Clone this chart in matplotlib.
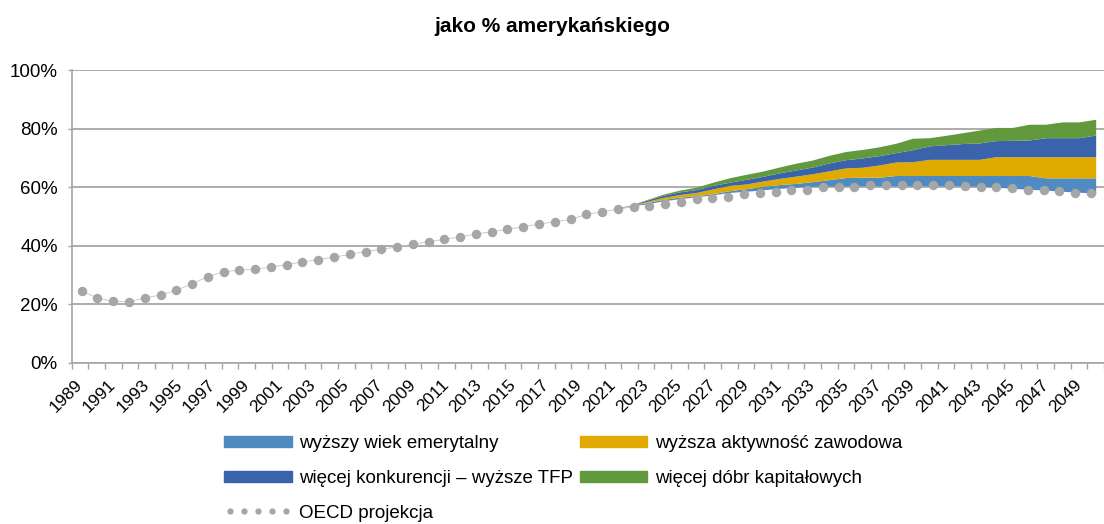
import numpy as np
import matplotlib.pyplot as plt
from matplotlib.lines import Line2D
from matplotlib.patches import Patch
from matplotlib.legend_handler import HandlerLine2D
from matplotlib.ticker import FuncFormatter

plt.rcParams['font.family'] = ['Liberation Sans', 'DejaVu Sans']

# category axis of the scenario chart
years = np.arange(1989, 2051)
proj_years = np.arange(2021, 2051)

# level the scenario bands start from (% of US level)
base = [52.8, 53.4, 54.3, 55.3, 56.1, 56.7, 57.4, 58.2, 58.6, 59.1,
        59.6, 60.0, 60.3, 60.4, 60.5, 60.5, 60.5, 60.5, 60.5, 60.5,
        60.5, 60.5, 60.4, 60.0, 59.6, 59.3, 59.0, 58.6, 58.3, 57.9]

# contributions of each reform, percentage points
emeryt = [0, 0.1, 0.4, 0.5, 0.5, 0.4, 0.4, 0.6, 0.9, 1.2,
          1.3, 1.3, 1.6, 2.2, 2.8, 2.9, 2.9, 3.5, 3.5, 3.5,
          3.5, 3.5, 3.6, 4.0, 4.4, 4.7, 4.2, 4.6, 4.9, 5.3]
aktyw = [0, 0.1, 0.4, 0.7, 0.9, 1.1, 1.6, 1.8, 1.6, 1.8,
         2.1, 2.5, 2.7, 3.0, 3.3, 3.4, 4.2, 4.6, 4.7, 5.5,
         5.5, 5.5, 5.5, 6.4, 6.4, 6.4, 7.2, 7.2, 7.2, 7.2]
tfp = [0, 0.1, 0.4, 0.7, 0.9, 1.0, 1.2, 1.1, 1.6, 1.6,
       1.9, 2.1, 2.3, 2.7, 2.8, 3.2, 3.2, 3.2, 4.1, 4.6,
       5.0, 5.4, 5.6, 5.5, 5.6, 5.7, 6.5, 6.5, 6.5, 7.4]
kapital = [0, 0.1, 0.2, 0.4, 0.6, 0.8, 1.1, 1.5, 1.7, 1.8,
           2.0, 2.3, 2.4, 2.6, 2.8, 2.9, 3.0, 3.2, 3.9, 2.8,
           3.2, 3.7, 4.4, 4.5, 4.4, 5.4, 4.6, 5.4, 5.4, 5.4]

# OECD series (history + projection), on its own category axis
oecd = [24.7, 22.1, 21.1, 20.9, 22.2, 23.2, 24.8, 27.0, 29.5, 31.1,
        31.7, 32.0, 32.7, 33.6, 34.5, 35.3, 36.1, 37.1, 38.0, 38.8,
        39.6, 40.5, 41.4, 42.2, 43.0, 44.0, 44.8, 45.6, 46.5, 47.4,
        48.2, 49.0, 50.7, 51.6, 52.5, 53.3, 53.7, 54.3, 55.1, 56.0,
        56.4, 56.8, 57.6, 58.1, 58.5, 59.0, 59.2, 60.0, 60.0, 60.0,
        60.9, 60.9, 60.9, 60.9, 60.9, 60.9, 60.4, 60.1, 60.1, 59.6,
        59.2, 59.2, 58.7, 58.1, 57.9]

labels = ['wyższy wiek emerytalny', 'wyższa aktywność zawodowa',
          'więcej konkurencji – wyższe TFP', 'więcej dóbr kapitałowych']
colors = ['#4f8bc0', '#e1aa00', '#3b63ab', '#62993d']
grey = '#a6a6a6'

fig = plt.figure(figsize=(11.04, 5.24), dpi=100)
ax = fig.add_axes([0.065, 0.3073, 0.935, 0.5591])

# stacked bands on top of the base level
x_proj = proj_years - years[0]
bottom = np.array(base)
for vals, c in zip([emeryt, aktyw, tfp, kapital], colors):
    top = bottom + np.array(vals)
    ax.fill_between(x_proj, bottom, top, color=c, lw=0, zorder=2)
    bottom = top

ax.set_xlim(-0.5, 60.98)
ax.set_ylim(0, 100)
ax.set_yticks(np.arange(0, 101, 20))
ax.yaxis.set_major_formatter(FuncFormatter(lambda v, p: f'{v:.0f}%'))
ax.yaxis.grid(True, color=grey, lw=1.3)
ax.set_axisbelow(True)
for s in ['top', 'right']:
    ax.spines[s].set_visible(False)
for s in ['left', 'bottom']:
    ax.spines[s].set_color(grey)
    ax.spines[s].set_linewidth(1.2)

ax.set_xticks(np.arange(0, len(years), 2))
ax.set_xticklabels([str(y) for y in years[::2]], rotation=45,
                   ha='right', va='center', rotation_mode='anchor')
ax.set_xticks(np.arange(-0.5, len(years), 1), minor=True)
ax.tick_params(axis='x', which='major', length=0, pad=14, labelsize=12.5)
ax.tick_params(axis='x', which='minor', length=4, color=grey, width=1)
ax.tick_params(axis='y', length=3, color=grey, width=1, labelsize=13.5, pad=7)

# OECD dots on a hidden twin category axis
ax2 = ax.twiny()
ax2.set_xlim(-0.63, 64.83)
ax2.xaxis.set_visible(False)
for s in ax2.spines.values():
    s.set_visible(False)
idx = np.arange(len(oecd))
ax2.plot(idx[:36], oecd[:36], color='#b9cdb0', lw=0.6, zorder=3)
ax2.plot(idx, oecd, ls='none', marker='o', ms=6.8, color=grey, mec='none', zorder=4)

fig.text(0.5, 1 - 26 / 524, 'jako % amerykańskiego', ha='center', va='center',
         fontsize=15, fontweight='bold')

handles = [Patch(color=colors[0]), Patch(color=colors[2]),
           Line2D([], [], ls='none', marker='o', ms=4.5, color=grey, mec='none'),
           Patch(color=colors[1]), Patch(color=colors[3])]
names = [labels[0], labels[2], 'OECD projekcja', labels[1], labels[3]]
fig.legend(handles, names, ncol=2, loc='upper left',
           bbox_to_anchor=(224 / 1104, 1 - 435 / 524), frameon=False,
           fontsize=13.5, handlelength=3.6, handleheight=0.55,
           handletextpad=0.4, labelspacing=0.95, columnspacing=0.35,
           borderpad=0, borderaxespad=0,
           handler_map={handles[2]: HandlerLine2D(numpoints=5)})

fig.savefig('out.png', dpi=100)
